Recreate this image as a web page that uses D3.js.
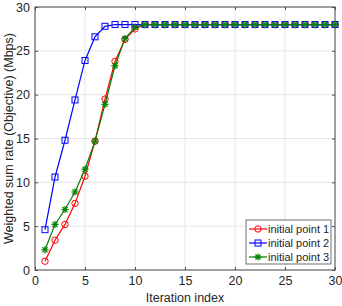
<!DOCTYPE html>
<html>
<head>
<meta charset="utf-8">
<script src="https://cdn.jsdelivr.net/npm/d3@7"></script>
<style>
  body { margin: 0; background: #fff; }
  svg text { font-family: "Liberation Sans", Arial, sans-serif; fill: #262626; }
</style>
</head>
<body>
<div id="chart"></div>
<script>
const width = 342, height = 306;
const margin = {top: 7, right: 7, bottom: 36, left: 35};

const iterations = d3.range(1, 31);
const point1 = [1.0, 3.4, 5.2, 7.6, 10.7, 14.7, 19.5, 23.8, 26.3, 27.5,
  28.0, 28.0, 28.0, 28.0, 28.0, 28.0, 28.0, 28.0, 28.0, 28.0,
  28.0, 28.0, 28.0, 28.0, 28.0, 28.0, 28.0, 28.0, 28.0, 28.0];
const point2 = [4.6, 10.6, 14.8, 19.4, 23.9, 26.6, 27.8, 28.0, 28.0, 28.0,
  28.0, 28.0, 28.0, 28.0, 28.0, 28.0, 28.0, 28.0, 28.0, 28.0,
  28.0, 28.0, 28.0, 28.0, 28.0, 28.0, 28.0, 28.0, 28.0, 28.0];
const point3 = [2.3, 5.2, 6.9, 8.9, 11.5, 14.7, 18.9, 23.3, 26.4, 27.7,
  28.0, 28.0, 28.0, 28.0, 28.0, 28.0, 28.0, 28.0, 28.0, 28.0,
  28.0, 28.0, 28.0, 28.0, 28.0, 28.0, 28.0, 28.0, 28.0, 28.0];
const xTicks = [0, 5, 10, 15, 20, 25, 30];
const yTicks = [0, 5, 10, 15, 20, 25, 30];
const seriesNames = ["initial point 1", "initial point 2", "initial point 3"];

const series = [
  {name: seriesNames[0], values: point1, color: "#ff0000", marker: "circle"},
  {name: seriesNames[1], values: point2, color: "#0000ff", marker: "square"},
  {name: seriesNames[2], values: point3, color: "#008000", marker: "star"}
];

const svg = d3.select("#chart").append("svg")
  .attr("width", width).attr("height", height);

const x = d3.scaleLinear().domain([0, 30]).range([margin.left, width - margin.right]);
const y = d3.scaleLinear().domain([0, 30]).range([height - margin.bottom, margin.top]);

// grid
svg.append("g").selectAll("line.vx").data(xTicks).enter().append("line")
  .attr("x1", d => x(d)).attr("x2", d => x(d))
  .attr("y1", y(0)).attr("y2", y(30))
  .style("stroke", "#e6e6e6");
svg.append("g").selectAll("line.hy").data(yTicks).enter().append("line")
  .attr("x1", x(0)).attr("x2", x(30))
  .attr("y1", d => y(d)).attr("y2", d => y(d))
  .style("stroke", "#e6e6e6");

// axes (ticks inside, MATLAB style)
const axisColor = "#4d4d4d";
function styleAxis(g, noLabels) {
  g.select(".domain").remove();
  g.selectAll(".tick line").style("stroke", axisColor);
  g.selectAll(".tick text").style("font-size", "12.5px").style("fill", "#262626");
  if (noLabels) g.selectAll(".tick text").remove();
}
svg.append("g").attr("transform", "translate(0," + y(0) + ")")
  .call(d3.axisBottom(x).tickValues(xTicks).tickSizeInner(-3).tickSizeOuter(0).tickPadding(6))
  .call(g => styleAxis(g, false));
svg.append("g").attr("transform", "translate(0," + y(30) + ")")
  .call(d3.axisTop(x).tickValues(xTicks).tickSizeInner(-3).tickSizeOuter(0))
  .call(g => styleAxis(g, true));
svg.append("g").attr("transform", "translate(" + x(0) + ",0)")
  .call(d3.axisLeft(y).tickValues(yTicks).tickSizeInner(-3).tickSizeOuter(0).tickPadding(5))
  .call(g => styleAxis(g, false));
svg.append("g").attr("transform", "translate(" + x(30) + ",0)")
  .call(d3.axisRight(y).tickValues(yTicks).tickSizeInner(-3).tickSizeOuter(0))
  .call(g => styleAxis(g, true));

svg.append("rect")
  .attr("x", x(0)).attr("y", y(30))
  .attr("width", x(30) - x(0)).attr("height", y(0) - y(30))
  .style("fill", "none").style("stroke", axisColor).style("stroke-width", 1);

// axis labels
svg.append("text")
  .attr("x", (x(0) + x(30)) / 2).attr("y", height - 4)
  .attr("text-anchor", "middle").style("font-size", "12.5px")
  .text("Iteration index");
svg.append("text")
  .attr("transform", "translate(13," + (y(0) + y(30)) / 2 + ") rotate(-90)")
  .attr("text-anchor", "middle").style("font-size", "12.5px")
  .text("Weighted sum rate (Objective) (Mbps)");

function drawMarker(g, type, color, cx, cy) {
  if (type === "circle") {
    g.append("circle").attr("cx", cx).attr("cy", cy).attr("r", 3.2)
      .style("fill", "none").style("stroke", color).style("stroke-width", 1);
  } else if (type === "square") {
    g.append("rect").attr("x", cx - 3).attr("y", cy - 3).attr("width", 6).attr("height", 6)
      .style("fill", "none").style("stroke", color).style("stroke-width", 1);
  } else {
    const r = 3.6;
    [0, 45, 90, 135].forEach(a => {
      const rad = a * Math.PI / 180;
      g.append("line")
        .attr("x1", cx - r * Math.cos(rad)).attr("y1", cy - r * Math.sin(rad))
        .attr("x2", cx + r * Math.cos(rad)).attr("y2", cy + r * Math.sin(rad))
        .style("stroke", color).style("stroke-width", 1.2);
    });
  }
}

const line = d3.line().x((d, i) => x(iterations[i])).y(d => y(d));

series.forEach(s => {
  const g = svg.append("g");
  g.append("path").datum(s.values).attr("d", line)
    .style("fill", "none").style("stroke", s.color).style("stroke-width", 1.2);
  s.values.forEach((v, i) => drawMarker(g, s.marker, s.color, x(iterations[i]), y(v)));
});

// legend
const lg = svg.append("g").attr("transform", "translate(246,220)");
lg.append("rect").attr("width", 85).attr("height", 44)
  .style("fill", "#fff").style("stroke", axisColor).style("stroke-width", 0.8);
series.forEach((s, i) => {
  const cy = 9 + i * 14;
  lg.append("line").attr("x1", 3).attr("x2", 21).attr("y1", cy).attr("y2", cy)
    .style("stroke", s.color).style("stroke-width", 1.2);
  drawMarker(lg, s.marker, s.color, 12, cy);
  lg.append("text").attr("x", 22).attr("y", cy + 4)
    .style("font-size", "11px").text(s.name);
});
</script>
</body>
</html>
